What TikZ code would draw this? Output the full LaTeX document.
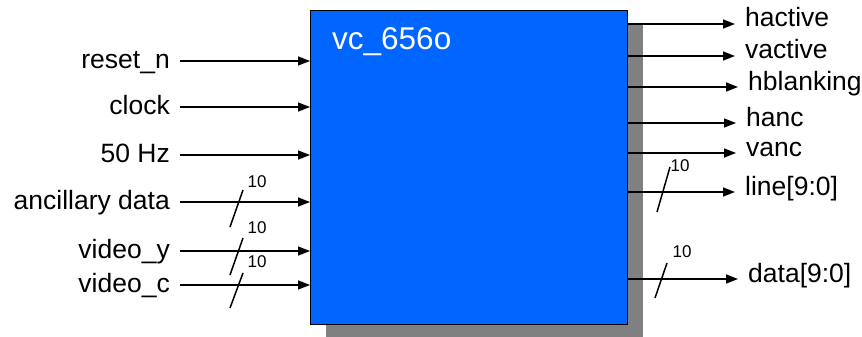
\documentclass[tikz,border=0pt]{standalone}
\usepackage{fontspec}
\setmainfont{Liberation Sans}
\usetikzlibrary{arrows.meta,shadows}
\definecolor{blockblue}{RGB}{0,102,255}
\definecolor{shadowgray}{RGB}{128,128,128}

\begin{document}
\begin{tikzpicture}[x=1pt,y=-1pt]
        \tikzset{block/.style = {draw=black, line width=1.2pt, fill=blockblue,
                minimum width=317pt, minimum height=314pt, anchor=north west,
                drop shadow={shadow xshift=15pt, shadow yshift=-14pt,
                fill=shadowgray, opacity=1}}}
        \tikzset{sig/.style = {line width=1.5pt, -{Triangle[length=12pt,width=9pt]}}}
        \tikzset{inlabel/.style = {anchor=east, inner xsep=10pt, inner ysep=0pt,
                text height=14pt, text depth=0pt,
                font=\fontsize{26.5}{30}\selectfont}}
        \tikzset{outlabel/.style = {anchor=west, inner xsep=10pt, inner ysep=0pt,
                text height=6pt, text depth=0pt,
                font=\fontsize{26.5}{30}\selectfont}}
        \tikzset{bus/.style = {line width=1.5pt}}
        \tikzset{width/.style = {font=\fontsize{17}{19}\selectfont, inner sep=0pt}}

        \useasboundingbox (0,0) rectangle (862,337);

        \node[block] (box) at (310,10) {};
        \node[anchor=base west, inner sep=0pt, text=white,
                font=\fontsize{31.5}{34}\selectfont] (title) at (332,50) {vc\_656o};

        % inputs
        \node[inlabel] (reset) at (180,61) {reset\_n};
        \node[inlabel] (clock) at (180,107) {clock};
        \node[inlabel] (hz) at (180,155) {50 Hz};
        \node[inlabel] (anc) at (180,202) {ancillary data};
        \node[inlabel] (vidy) at (180,251) {video\_y};
        \node[inlabel] (vidc) at (180,285) {video\_c};

        \draw[sig] (reset.east) -- (box.west |- reset.east);
        \draw[sig] (clock.east) -- (box.west |- clock.east);
        \draw[sig] (hz.east) -- (box.west |- hz.east);
        \draw[sig] (anc.east) -- (box.west |- anc.east);
        \draw[sig] (vidy.east) -- (box.west |- vidy.east);
        \draw[sig] (vidc.east) -- (box.west |- vidc.east);

        % outputs
        \node[outlabel] (hact) at (735,24) {hactive};
        \node[outlabel] (vact) at (735,56) {vactive};
        \node[outlabel] (hblank) at (738,87) {hblanking};
        \node[outlabel] (hanc) at (736,123) {hanc};
        \node[outlabel] (vanc) at (736,153) {vanc};
        \node[outlabel] (line) at (735,192) {line[9:0]};
        \node[outlabel] (data) at (738,279) {data[9:0]};

        \draw[sig] (box.east |- hact.west) -- (hact.west);
        \draw[sig] (box.east |- vact.west) -- (vact.west);
        \draw[sig] (box.east |- hblank.west) -- (hblank.west);
        \draw[sig] (box.east |- hanc.west) -- (hanc.west);
        \draw[sig] (box.east |- vanc.west) -- (vanc.west);
        \draw[sig] (box.east |- line.west) -- (line.west);
        \draw[sig] (box.east |- data.west) -- (data.west);

        % bus widths
        \draw[bus] (230,227) -- (243,190);
        \node[width] (w1) at (257,182) {10};
        \draw[bus] (230,275) -- (243,238);
        \node[width] (w2) at (257,228) {10};
        \draw[bus] (230,308) -- (243,273);
        \node[width] (w3) at (257,262) {10};
        \draw[bus] (657,212) -- (670,167);
        \node[width] (w4) at (680,166) {10};
        \draw[bus] (655,298) -- (667,263);
        \node[width] (w5) at (682,252) {10};
\end{tikzpicture}
\end{document}
